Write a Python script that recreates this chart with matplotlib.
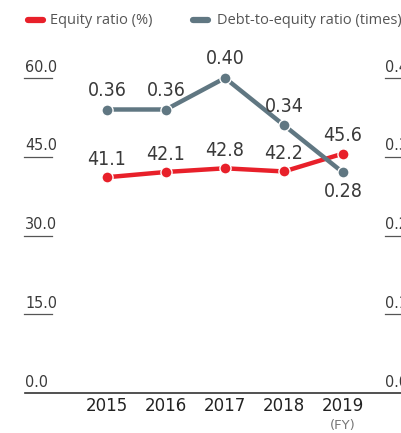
import matplotlib.pyplot as plt
from matplotlib.transforms import blended_transform_factory
from matplotlib.lines import Line2D

years = [2015, 2016, 2017, 2018, 2019]
year_labels = ["2015", "2016", "2017", "2018", "2019"]
equity_ratio = [41.1, 42.1, 42.8, 42.2, 45.6]
debt_to_equity = [0.36, 0.36, 0.40, 0.34, 0.28]
left_ticks = [0.0, 15.0, 30.0, 45.0, 60.0]
right_ticks = [0.0, 0.10, 0.20, 0.30, 0.40]

RED = "#e8202a"
GREY = "#607782"
TXT = "#3a3a3a"
NARROW = dict(family="DejaVu Sans", stretch="condensed")

W, H = 401, 433
fig = plt.figure(figsize=(W / 100, H / 100), dpi=100)

# axes placed in pixel terms: x 25..401, y 40..393
top_px, bot_px = 40, 393
ax = fig.add_axes([25 / W, (H - bot_px) / H, (W - 25) / W, (bot_px - top_px) / H])
ymax = (bot_px - top_px) / 5.25
ax.set_ylim(0, ymax)
ax.set_xlim(2015 - 82 / 59, 2015 + 294 / 59)
ax2 = ax.twinx()
ax2.set_ylim(0, ymax / 150)

for a in (ax, ax2):
    for s in a.spines.values():
        s.set_visible(False)
    a.set_yticks([])
    a.tick_params(length=0)
ax.spines["bottom"].set_visible(True)
ax.spines["bottom"].set_color("#333333")
ax.spines["bottom"].set_linewidth(1.2)
ax.set_xticks(years)
ax.set_xticklabels(year_labels, fontsize=12, color="#222222", family="DejaVu Sans")
ax.tick_params(axis="x", pad=3)

# left tick labels with underline
tr = blended_transform_factory(ax.transAxes, ax.transData)
for v in left_ticks:
    if v > 0:
        ax.plot([-0.003, 0.072], [v, v], color="#555555", lw=0.9, transform=tr, clip_on=False)
    ax.annotate(f"{v:.1f}", (0.0, v), xycoords=tr, xytext=(0, 2.5), textcoords="offset points",
                ha="left", va="bottom", fontsize=11.5, color=TXT, **NARROW)

tr2 = blended_transform_factory(ax2.transAxes, ax2.transData)
for v in right_ticks:
    if v > 0:
        ax2.plot([0.957, 1.05], [v, v], color="#555555", lw=0.9, transform=tr2, clip_on=False)
    ax2.annotate(f"{v:.2f}", (0.957, v), xycoords=tr2, xytext=(0, 2.5), textcoords="offset points",
                 ha="left", va="bottom", fontsize=11.5, color=TXT, annotation_clip=False, **NARROW)

ax.plot(years, equity_ratio, color=RED, lw=3.2, marker="o", ms=8, mec="white", mew=1,
        solid_capstyle="round", zorder=4)
ax2.plot(years, debt_to_equity, color=GREY, lw=3.2, marker="o", ms=8, mec="white", mew=1,
         solid_capstyle="round", zorder=3)

for x, v in zip(years, equity_ratio):
    ax.annotate(f"{v:.1f}", (x, v), xytext=(0, 6), textcoords="offset points", ha="center",
                va="bottom", fontsize=14, color=TXT, **NARROW)
for i, (x, v) in enumerate(zip(years, debt_to_equity)):
    below = i == len(years) - 1
    ax2.annotate(f"{v:.2f}", (x, v), xytext=(0, -7 if below else 7), textcoords="offset points",
                 ha="center", va="top" if below else "bottom", fontsize=14, color=TXT, **NARROW)

fig.text(343 / W, 1 - 426 / H, "(FY)", ha="center", va="center", fontsize=9.5, color="#777777")

# legend
fig.add_artist(Line2D([28 / W, 43 / W], [1 - 20 / H] * 2, color=RED, lw=4.5, solid_capstyle="round"))
fig.text(50 / W, 1 - 20 / H, "Equity ratio (%)", ha="left", va="center", fontsize=10.5,
         color="#555555", family="Open Sans")
fig.add_artist(Line2D([193 / W, 208 / W], [1 - 20 / H] * 2, color=GREY, lw=4.5, solid_capstyle="round"))
fig.text(217 / W, 1 - 20 / H, "Debt-to-equity ratio (times)", ha="left", va="center", fontsize=10.5,
         color="#555555", family="Open Sans")

fig.savefig("out.png", dpi=100)
